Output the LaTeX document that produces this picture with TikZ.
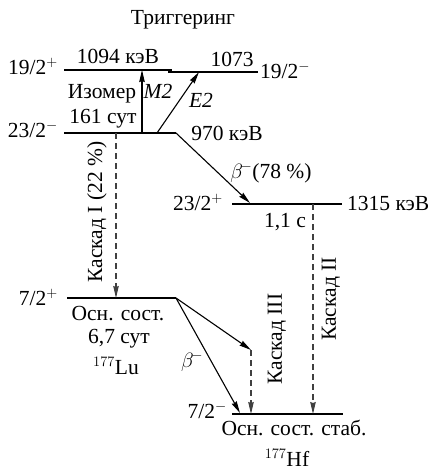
\documentclass[tikz,border=0pt]{standalone}
\usepackage{fontspec}
\setmainfont{Liberation Serif}
\usetikzlibrary{arrows.meta}
\begin{document}
\begin{tikzpicture}[x=1pt,y=-1pt,
  lvl/.style={line width=1.1pt},
  lvlthick/.style={line width=2.6pt},
  tr/.style={line width=1.1pt,-{Stealth[length=12pt,width=5.5pt,inset=1pt]}},
  trd/.style={tr,dash pattern=on 6pt off 4pt,draw=black!75},
  lab/.style={font=\fontsize{21.5}{23}\selectfont,inner sep=0pt},
  every node/.style={lab}]
\useasboundingbox (0,0) rectangle (428,472);
% levels
\coordinate (a1) at (64,70);   \coordinate (a2) at (172,70);
\coordinate (b1) at (168,72);  \coordinate (b2) at (258,72);
\coordinate (c1) at (64,133);  \coordinate (c2) at (176,133);
\coordinate (d1) at (232,204); \coordinate (d2) at (342,204);
\coordinate (e1) at (67,298);  \coordinate (e2) at (176,298);
\coordinate (f1) at (232,414); \coordinate (f2) at (343,414);
\draw[lvl] (a1) -- (a2);
\draw[lvl] (b1) -- (b2);
\draw[lvlthick] (c1) -- (c2);
\draw[lvl] (d1) -- (d2);
\draw[lvl] (e1) -- (e2);
\draw[lvl] (f1) -- (f2);
% transition points
\coordinate (m2s) at (142,133); \coordinate (m2e) at (142,70);
\coordinate (e2s) at (157,133); \coordinate (e2e) at (199,72);
\coordinate (bte) at (250,203);
\coordinate (k1s) at (116,133); \coordinate (k1e) at (116,298);
\coordinate (k2s) at (313,204); \coordinate (k2e) at (313,414);
\coordinate (k3m) at (251,350); \coordinate (k3e) at (251,414);
\coordinate (lue) at (240,413);
\draw[tr] (m2s) -- (m2e);
\draw[tr] (e2s) -- (e2e);
\draw[tr] (c2) -- (bte);
\draw[trd] (k1s) -- (k1e);
\draw[trd] (k2s) -- (k2e);
\draw[tr] (e2) -- (k3m);
\draw[trd] (k3m) -- (k3e);
\draw[tr] (e2) -- (lue);
% labels
\node (trig) at (183,20) {Триггеринг};
\node[anchor=base] (t1094) at (118,63) {1094 кэВ};
\node[anchor=base east] (s1) at (58,74) {19/2$^+$};
\node[anchor=base] (t1073) at (232,66) {1073};
\node[anchor=base west] (s2) at (260,78) {19/2$^-$};
\node[anchor=base] (iso) at (102,98) {Изомер};
\node[anchor=base] (m2) at (158,98) {\itshape M2};
\node[anchor=base] (e2l) at (201,107) {\itshape E2};
\node[anchor=base] (t161) at (103,123) {161 сут};
\node[anchor=base east] (s3) at (58,137) {23/2$^-$};
\node[anchor=base] (t970) at (227,140) {970 кэВ};
\node[anchor=base] (b78) at (271,178) {$\beta^{\!-}$(78 \%)};
\node[anchor=base east] (s4) at (223,210) {23/2$^+$};
\node[anchor=base west] (t1315) at (347,210) {1315 кэВ};
\node[anchor=base] (t11) at (285,227) {1,1 с};
\node[anchor=base east] (s5) at (58,305) {7/2$^+$};
\node[anchor=base] (osn1) at (118,320) {Осн. сост.};
\node[anchor=base] (t67) at (119,343) {6,7 сут};
\node[anchor=base] (lu) at (116,374) {$^{177}$Lu};
\node[anchor=base] (bl) at (192,367) {$\beta^{\!-}$};
\node[anchor=base east] (s6) at (227,418) {7/2$^-$};
\node[anchor=base] (osn2) at (294,435) {Осн. сост. стаб.};
\node[anchor=base] (hf) at (287,466) {$^{177}$Hf};
\node[rotate=90] (kI) at (97,212) {Каскад I (22 \%)};
\node[rotate=90] (kIII) at (277,339) {Каскад III};
\node[rotate=90] (kII) at (331,299) {Каскад II};
\end{tikzpicture}
\end{document}
